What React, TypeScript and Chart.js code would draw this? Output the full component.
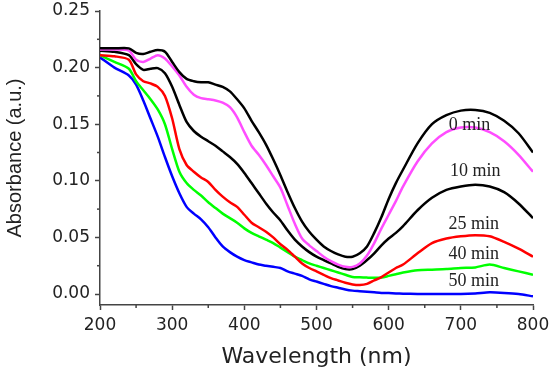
import React, { useEffect, useRef } from "react";
import { Chart, registerables } from "chart.js";

Chart.register(...registerables);

const wavelengths = [200, 220, 240, 250, 260, 270, 280, 290, 300, 310, 320, 330, 340, 350, 360, 370, 380, 390, 400, 410, 420, 430, 440, 450, 460, 470, 480, 490, 500, 510, 520, 530, 540, 550, 560, 570, 580, 590, 600, 610, 620, 640, 660, 680, 700, 720, 740, 760, 780, 800];

const min0 = [0.217, 0.217, 0.217, 0.213, 0.212, 0.214, 0.2155, 0.214, 0.205, 0.196, 0.190, 0.188, 0.187, 0.187, 0.185, 0.183, 0.179, 0.172, 0.164, 0.153, 0.143, 0.132, 0.119, 0.105, 0.090, 0.076, 0.064, 0.055, 0.048, 0.042, 0.038, 0.035, 0.033, 0.033, 0.036, 0.042, 0.054, 0.068, 0.084, 0.098, 0.110, 0.133, 0.150, 0.158, 0.162, 0.1626, 0.160, 0.153, 0.142, 0.125];
const min10 = [0.216, 0.216, 0.215, 0.207, 0.205, 0.208, 0.211, 0.208, 0.201, 0.193, 0.183, 0.176, 0.173, 0.172, 0.171, 0.169, 0.165, 0.156, 0.143, 0.131, 0.123, 0.114, 0.104, 0.094, 0.078, 0.062, 0.049, 0.043, 0.038, 0.033, 0.029, 0.026, 0.024, 0.024, 0.027, 0.034, 0.045, 0.058, 0.070, 0.082, 0.095, 0.117, 0.133, 0.143, 0.147, 0.147, 0.143, 0.135, 0.123, 0.108];
const min25 = [0.215, 0.214, 0.211, 0.203, 0.198, 0.199, 0.1995, 0.195, 0.183, 0.167, 0.152, 0.144, 0.139, 0.135, 0.131, 0.126, 0.121, 0.115, 0.107, 0.098, 0.089, 0.080, 0.072, 0.065, 0.056, 0.048, 0.042, 0.037, 0.033, 0.030, 0.027, 0.024, 0.022, 0.022, 0.025, 0.030, 0.036, 0.043, 0.049, 0.054, 0.060, 0.074, 0.085, 0.092, 0.095, 0.0965, 0.095, 0.090, 0.080, 0.067];
const min40 = [0.211, 0.210, 0.207, 0.194, 0.188, 0.186, 0.183, 0.175, 0.155, 0.128, 0.114, 0.108, 0.103, 0.099, 0.092, 0.086, 0.081, 0.077, 0.070, 0.063, 0.059, 0.055, 0.050, 0.044, 0.039, 0.033, 0.027, 0.023, 0.020, 0.017, 0.014, 0.012, 0.010, 0.0085, 0.008, 0.009, 0.012, 0.015, 0.019, 0.023, 0.026, 0.036, 0.045, 0.049, 0.051, 0.052, 0.051, 0.046, 0.040, 0.033];
const min50 = [0.211, 0.205, 0.199, 0.188, 0.180, 0.172, 0.163, 0.150, 0.128, 0.108, 0.098, 0.092, 0.087, 0.081, 0.076, 0.071, 0.067, 0.063, 0.058, 0.054, 0.051, 0.048, 0.045, 0.041, 0.037, 0.033, 0.030, 0.027, 0.025, 0.023, 0.021, 0.019, 0.017, 0.015, 0.0148, 0.0145, 0.0143, 0.0145, 0.016, 0.0175, 0.019, 0.021, 0.0215, 0.022, 0.023, 0.0235, 0.026, 0.023, 0.020, 0.017];
const minBlue = [0.209, 0.200, 0.193, 0.185, 0.171, 0.155, 0.139, 0.121, 0.104, 0.089, 0.077, 0.071, 0.066, 0.059, 0.050, 0.042, 0.037, 0.033, 0.030, 0.028, 0.026, 0.025, 0.024, 0.023, 0.020, 0.018, 0.016, 0.013, 0.011, 0.009, 0.007, 0.0055, 0.004, 0.003, 0.0025, 0.002, 0.0015, 0.001, 0.0008, 0.0005, 0.0003, 0.0, 0.0, 0.0, 0.0, 0.0005, 0.0015, 0.001, 0.0, -0.002];

const seriesValues = [min0, min10, min25, min40, min50, minBlue];
const seriesNames = ["0 min", "10 min", "25 min", "40 min", "50 min", "60 min"];
const seriesColors = ["#000000", "#ff4dff", "#000000", "#ff0000", "#00ff00", "#0000ff"];

const xTicks = [200, 300, 400, 500, 600, 700, 800];
const xMinorTicks = [250, 350, 450, 550, 650, 750];
const yTicks = [0, 0.05, 0.1, 0.15, 0.2, 0.25];
const yMinorTicks = [0.025, 0.075, 0.125, 0.175, 0.225];

const labelTexts = ["0 min", "10 min", "25 min", "40 min", "50 min"];
const labelX = [712, 720, 718, 718, 718];
const labelY = [0.149, 0.108, 0.062, 0.0355, 0.0117];

export default function App() {
  const ref = useRef<HTMLCanvasElement | null>(null);
  useEffect(() => {
    document.body.style.margin = "0";
    if (!ref.current) return;
    const axisColor = "#444";
    const extras = {
      id: "extras",
      afterDraw(chart: any) {
        const ctx = chart.ctx;
        const xs = chart.scales.x;
        const ys = chart.scales.y;
        const area = chart.chartArea;
        ctx.save();
        ctx.strokeStyle = axisColor;
        ctx.lineWidth = 1.5;
        yMinorTicks.forEach((v) => {
          const py = ys.getPixelForValue(v);
          ctx.beginPath();
          ctx.moveTo(area.left - 3, py);
          ctx.lineTo(area.left, py);
          ctx.stroke();
        });
        xMinorTicks.forEach((v) => {
          const px = xs.getPixelForValue(v);
          ctx.beginPath();
          ctx.moveTo(px, area.bottom);
          ctx.lineTo(px, area.bottom + 3);
          ctx.stroke();
        });
        ctx.fillStyle = "#222";
        ctx.font = "18px 'Liberation Serif'";
        ctx.textAlign = "center";
        ctx.textBaseline = "middle";
        labelTexts.forEach((t, i) => {
          ctx.fillText(t, xs.getPixelForValue(labelX[i]), ys.getPixelForValue(labelY[i]));
        });
        ctx.restore();
      },
    };
    const chart = new Chart(ref.current, {
      type: "line",
      data: {
        datasets: seriesValues.map((vals, i) => ({
          label: seriesNames[i],
          data: wavelengths.map((w, j) => ({ x: w, y: vals[j] })),
          borderColor: seriesColors[i],
          borderWidth: 2.5,
          pointRadius: 0,
          tension: 0.25,
          fill: false,
        })),
      },
      options: {
        animation: false,
        responsive: false,
        layout: { padding: { top: 11, right: 17, left: 0, bottom: 0 } },
        plugins: { legend: { display: false }, tooltip: { enabled: false } },
        scales: {
          x: {
            type: "linear",
            min: 200,
            max: 800,
            afterBuildTicks: (s: any) => {
              s.ticks = xTicks.map((v) => ({ value: v }));
            },
            afterFit: (s: any) => {
              s.height = 67;
              s.paddingLeft = 0;
              s.paddingRight = 0;
            },
            ticks: {
              font: { family: "DejaVu Sans", size: 17 },
              color: "#222",
              padding: 5,
              maxRotation: 0,
            },
            grid: { drawOnChartArea: false, drawTicks: true, tickLength: 5, color: axisColor, tickWidth: 1.5 },
            border: { display: true, color: axisColor, width: 1.5 },
            title: {
              display: true,
              text: "Wavelength (nm)",
              font: { family: "DejaVu Sans", size: 22 },
              color: "#222",
              padding: { top: 0, bottom: 2 },
            },
          },
          y: {
            type: "linear",
            min: -0.0097,
            max: 0.25,
            afterBuildTicks: (s: any) => {
              s.ticks = yTicks.map((v) => ({ value: v }));
            },
            afterFit: (s: any) => {
              s.width = 100;
              s.paddingTop = 0;
              s.paddingBottom = 0;
            },
            ticks: {
              font: { family: "DejaVu Sans", size: 17 },
              color: "#222",
              padding: 5,
              callback: (v: any) => Number(v).toFixed(2),
            },
            grid: { drawOnChartArea: false, drawTicks: true, tickLength: 5, color: axisColor, tickWidth: 1.5 },
            border: { display: true, color: axisColor, width: 1.5 },
            title: {
              display: true,
              text: "Absorbance (a.u.)",
              font: { family: "Liberation Sans", size: 20 },
              color: "#222",
              padding: { top: 3, bottom: 0 },
            },
          },
        },
      },
      plugins: [extras],
    });
    return () => chart.destroy();
  }, []);
  return (
    <div style={{ width: 550, height: 372 }}>
      <canvas ref={ref} width={550} height={372} />
    </div>
  );
}
